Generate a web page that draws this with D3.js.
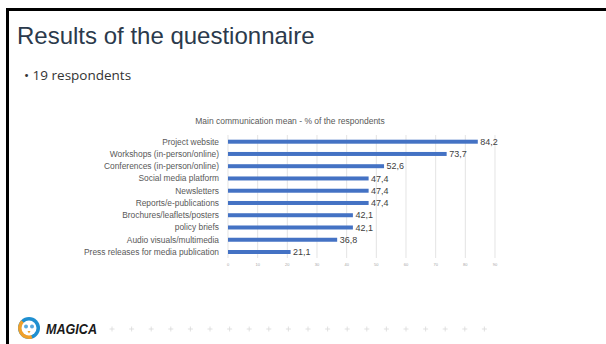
<!DOCTYPE html>
<html>
<head>
<meta charset="utf-8">
<script src="https://cdn.jsdelivr.net/npm/d3@7"></script>
<style>
  html, body { margin: 0; padding: 0; background: #fff; }
  svg { display: block; }
</style>
</head>
<body>
<div id="slide"></div>
<script>
// chart data
const categories = [
  "Project website",
  "Workshops (in-person/online)",
  "Conferences (in-person/online)",
  "Social media platform",
  "Newsletters",
  "Reports/e-publications",
  "Brochures/leaflets/posters",
  "policy briefs",
  "Audio visuals/multimedia",
  "Press releases for media publication"
];
const percentages = [84.2, 73.7, 52.6, 47.4, 47.4, 47.4, 42.1, 42.1, 36.8, 21.1];
const xTicks = [0, 10, 20, 30, 40, 50, 60, 70, 80, 90];

const W = 606, H = 344;

const svg = d3.select("#slide")
    .append("svg")
    .attr("width", W)
    .attr("height", H);

svg.append("rect").attr("width", W).attr("height", H).attr("fill", "#fff");

// slide frame (top and left edge only are visible)
svg.append("rect").attr("x", 6).attr("y", 8).attr("width", W - 6).attr("height", 3).attr("fill", "#000");
svg.append("rect").attr("x", 6).attr("y", 8).attr("width", 3).attr("height", H - 8).attr("fill", "#000");

// heading
svg.append("text")
    .attr("x", 17).attr("y", 44)
    .attr("font-family", "Liberation Sans, Arial, sans-serif")
    .attr("font-size", 24)
    .attr("fill", "#2b3a4c")
    .text("Results of the questionnaire");

svg.append("text")
    .attr("x", 24).attr("y", 80)
    .attr("font-family", "Open Sans, sans-serif")
    .attr("font-size", 13.5)
    .attr("fill", "#333")
    .text("\u2022 19 respondents");

// chart
const x = d3.scaleLinear()
    .domain([0, 90])
    .range([228, 495]);

const y = d3.scalePoint()
    .domain(categories)
    .range([141.7, 252]);

const barH = 4;
const chart = svg.append("g");

chart.append("text")
    .attr("x", 290).attr("y", 124)
    .attr("text-anchor", "middle")
    .attr("font-family", "Liberation Sans, Arial, sans-serif")
    .attr("font-size", 8.5)
    .attr("fill", "#595959")
    .text("Main communication mean - % of the respondents");

// gridlines
chart.selectAll("line.grid")
    .data(xTicks)
    .enter()
    .append("line")
    .attr("class", "grid")
    .attr("x1", d => x(d)).attr("x2", d => x(d))
    .attr("y1", 135).attr("y2", 258)
    .attr("stroke", "#d9d9d9")
    .attr("stroke-width", 0.7);

// tick labels
chart.selectAll("text.tick")
    .data(xTicks)
    .enter()
    .append("text")
    .attr("class", "tick")
    .attr("x", d => x(d)).attr("y", 266)
    .attr("text-anchor", "middle")
    .attr("font-family", "Liberation Sans, Arial, sans-serif")
    .attr("font-size", 4)
    .attr("fill", "#a6a6a6")
    .text(d => d);

// bars
chart.selectAll("rect.bar")
    .data(percentages)
    .enter()
    .append("rect")
    .attr("class", "bar")
    .attr("x", x(0))
    .attr("y", (d, i) => y(categories[i]) - barH / 2)
    .attr("width", d => x(d) - x(0))
    .attr("height", barH)
    .attr("fill", "#4472c4");

// value labels
chart.selectAll("text.val")
    .data(percentages)
    .enter()
    .append("text")
    .attr("class", "val")
    .attr("x", d => x(d) + 2.5)
    .attr("y", (d, i) => y(categories[i]) + 3.2)
    .attr("font-family", "Liberation Sans, Arial, sans-serif")
    .attr("font-size", 9)
    .attr("fill", "#404040")
    .text(d => d.toFixed(1).replace(".", ","));

// category labels
chart.selectAll("text.cat")
    .data(categories)
    .enter()
    .append("text")
    .attr("class", "cat")
    .attr("x", 219)
    .attr("y", d => y(d) + 3)
    .attr("text-anchor", "end")
    .attr("font-family", "Liberation Sans, Arial, sans-serif")
    .attr("font-size", 8.4)
    .attr("fill", "#595959")
    .text(d => d);

// footer logo
const logo = svg.append("g").attr("transform", "translate(29,328)");
logo.append("circle").attr("r", 11).attr("fill", "#1f8fd0");
logo.append("path")
    .attr("d", d3.arc()({innerRadius: 7, outerRadius: 11, startAngle: Math.PI * 0.9, endAngle: Math.PI * 1.75}))
    .attr("fill", "#f0a02a");
logo.append("circle").attr("r", 7.5).attr("fill", "#fff");
logo.append("circle").attr("cx", -3).attr("cy", -1.5).attr("r", 2).attr("fill", "#5aa9dd");
logo.append("circle").attr("cx", 3).attr("cy", -1.5).attr("r", 2).attr("fill", "#5aa9dd");
logo.append("path").attr("d", "M-1.5,3 L1.5,3 L0,5.5 Z").attr("fill", "#f0a02a");

svg.append("text")
    .attr("x", 46).attr("y", 334)
    .attr("font-family", "Liberation Sans, Arial, sans-serif")
    .attr("font-size", 14)
    .attr("font-weight", "bold")
    .attr("font-style", "italic")
    .attr("fill", "#1a1a1a")
    .attr("textLength", 51)
    .attr("lengthAdjust", "spacingAndGlyphs")
    .text("MAGICA");

// decorative plus signs
const plusX = d3.range(20).map(i => 112 + i * 19.6);
const plus = svg.selectAll("g.plus")
    .data(plusX)
    .enter()
    .append("g")
    .attr("class", "plus")
    .attr("transform", d => `translate(${d},329)`);
plus.append("line").attr("x1", -2.5).attr("x2", 2.5).attr("stroke", "#d9d9d9").attr("stroke-width", 0.8);
plus.append("line").attr("y1", -2.5).attr("y2", 2.5).attr("stroke", "#d9d9d9").attr("stroke-width", 0.8);
</script>
</body>
</html>
